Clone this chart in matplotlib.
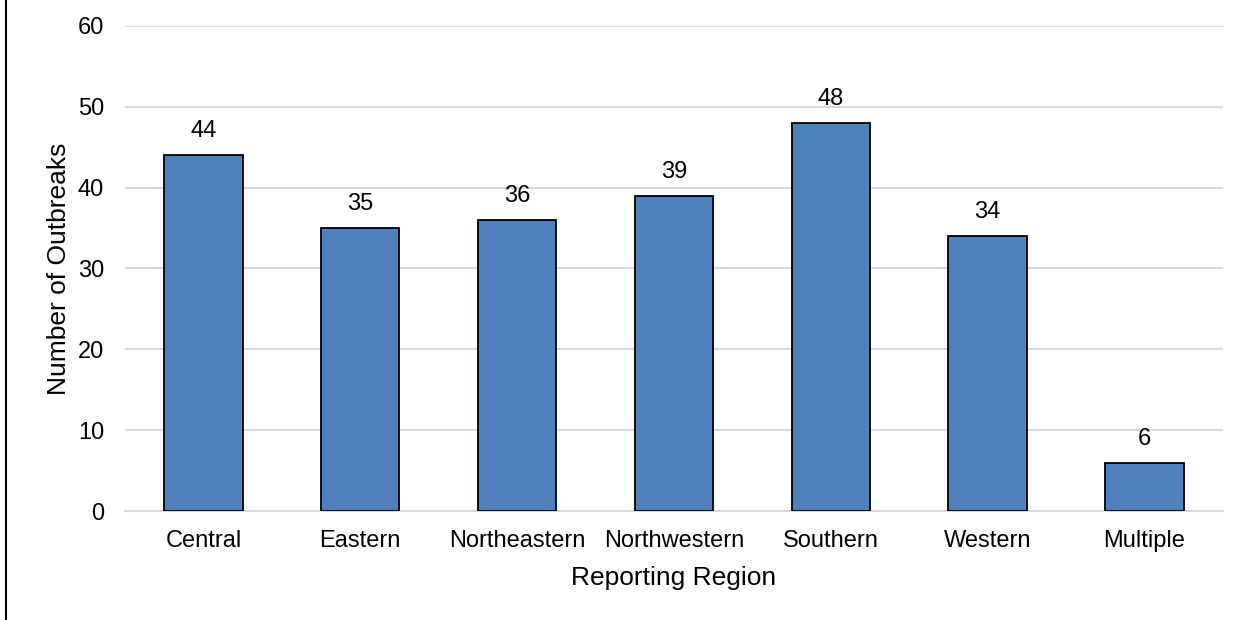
import matplotlib
matplotlib.use("Agg")
from matplotlib import pyplot as plt
from matplotlib.lines import Line2D

# outbreak counts by reporting region
regions = ["Central", "Eastern", "Northeastern", "Northwestern", "Southern", "Western", "Multiple"]
outbreaks = [44, 35, 36, 39, 48, 34, 6]

plt.rcParams["font.family"] = ["Liberation Sans", "DejaVu Sans"]

fig = plt.figure(figsize=(12.51, 6.2), dpi=100)
ax = fig.add_axes([0.0999, 0.1758, 0.8777, 0.7823])

x = range(len(regions))
bars = ax.bar(x, outbreaks, width=0.5, color="#4F81BD", edgecolor="black", linewidth=1.3, zorder=3)
for b, v in zip(bars, outbreaks):
    ax.text(b.get_x() + b.get_width() / 2, v + 1.6, str(v), ha="center", va="bottom", fontsize=17)

ax.set_xlim(-0.5, len(regions) - 0.5)
ax.set_ylim(0, 60)
ax.set_yticks(range(0, 61, 10))
ax.set_xticks(list(x))
ax.set_xticklabels(regions)
ax.tick_params(axis="both", length=0, labelsize=17)
ax.tick_params(axis="y", pad=15)
ax.tick_params(axis="x", pad=14)
ax.grid(axis="y", color="#D9D9D9", linewidth=1.5, zorder=0)
for s in ["top", "right", "left"]:
    ax.spines[s].set_visible(False)
ax.spines["bottom"].set_color("#D9D9D9")
ax.spines["bottom"].set_linewidth(1.5)

ax.set_xlabel("Reporting Region", fontsize=19, labelpad=10)
ax.set_ylabel("Number of Outbreaks", fontsize=19, labelpad=5)

# thin frame line down the left edge
fig.add_artist(Line2D([0.0045, 0.0045], [0, 1], transform=fig.transFigure, color="black", linewidth=1.5))

plt.savefig("out.png", dpi=100)
